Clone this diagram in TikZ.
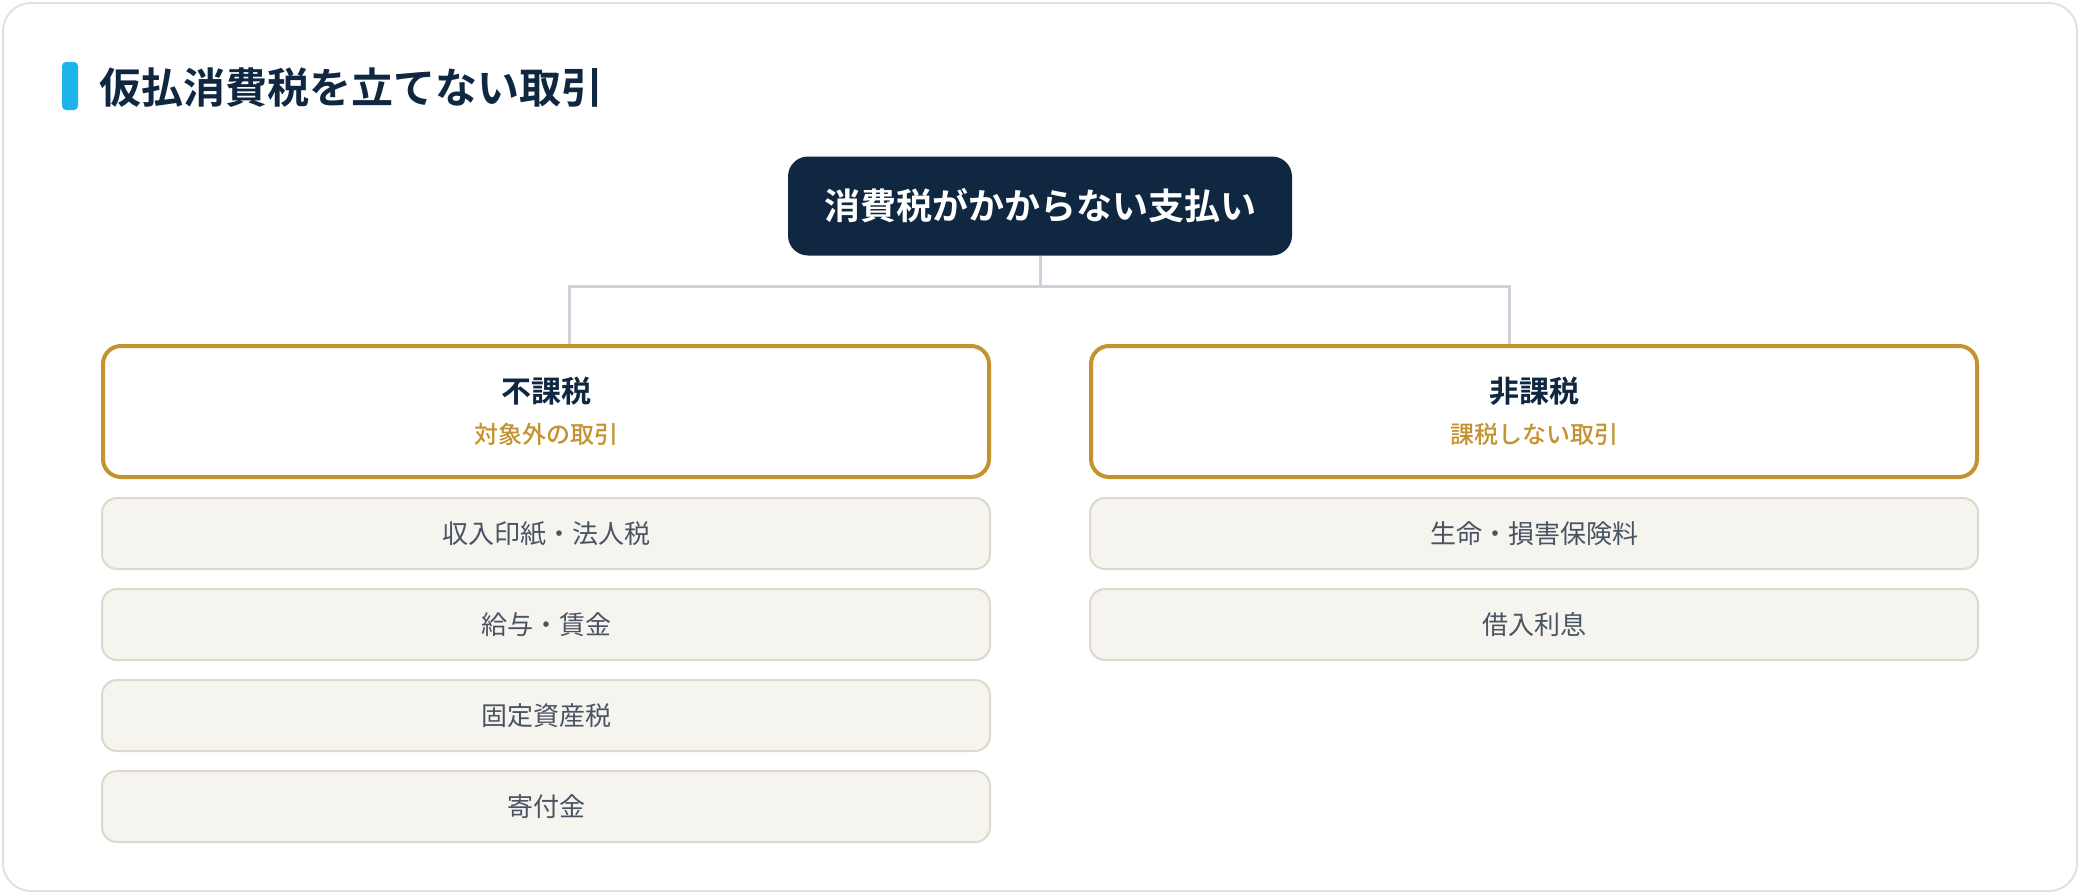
\documentclass[tikz,border=0pt]{standalone}
\usepackage{fontspec}
\setmainfont{Noto Sans CJK JP}[BoldFont={Noto Sans CJK JP Bold}]
\newfontfamily\medfont{Noto Sans CJK JP Medium}
\usetikzlibrary{positioning}
\definecolor{navy}{HTML}{0F2740}
\definecolor{accent}{HTML}{1CB4EA}
\definecolor{gold}{HTML}{C4922F}
\definecolor{itemfill}{HTML}{F5F4EF}
\definecolor{itemline}{HTML}{DDDACB}
\definecolor{itemtext}{HTML}{4A5361}
\definecolor{linkline}{HTML}{CBD2DC}
\definecolor{frameline}{HTML}{E4E1D6}
\tikzstyle{top} = [fill=navy, text=white, rounded corners=10pt, minimum width=252pt, minimum height=49.5pt, font=\fontsize{18}{22}\selectfont\bfseries]
\tikzstyle{head} = [draw=gold, line width=2pt, fill=white, rounded corners=9pt, minimum width=443pt, minimum height=65.5pt, align=center, font=\fontsize{12}{20.5}\selectfont]
\tikzstyle{item} = [draw=itemline, line width=1pt, fill=itemfill, rounded corners=7.5pt, minimum width=444pt, minimum height=35.5pt, text=itemtext, font=\fontsize{13}{15}\selectfont]
\tikzstyle{link} = [draw=linkline, line width=1.5pt]

\begin{document}
\begin{tikzpicture}[x=0.5pt,y=-0.5pt,node distance=9pt]
\useasboundingbox (0,0) rectangle (2080,894);
\draw[frameline, line width=1pt, fill=white, rounded corners=14pt] (3,3) rectangle (2077,891);

% title
\fill[accent, rounded corners=2pt] (62,62) rectangle (78,110);
\node[anchor=west, inner sep=0pt, text=navy, font=\fontsize{21}{25}\selectfont\bfseries] (title) at (99,88) {仮払消費税を立てない取引};

\node[top] (pay) at (1040,206) {消費税がかからない支払い};

\node[head] (hd1) at (546,411.5) {{\fontsize{15}{20.5}\selectfont\bfseries\color{navy}不課税}\\{\medfont\color{gold}対象外の取引}};
\node[head] (hd2) at (1534,411.5) {{\fontsize{15}{20.5}\selectfont\bfseries\color{navy}非課税}\\{\medfont\color{gold}課税しない取引}};

\node[item, below = of hd1] (a1) {収入印紙・法人税};
\node[item, below = of a1] (a2) {給与・賃金};
\node[item, below = of a2] (a3) {固定資産税};
\node[item, below = of a3] (a4) {寄付金};

\node[item, below = of hd2] (b1) {生命・損害保険料};
\node[item, below = of b1] (b2) {借入利息};

\path[link]
(pay.south) -- ++(0,31) -| ([xshift=11.5pt]hd1.north)
(pay.south) -- ++(0,31) -| ([xshift=-12.5pt]hd2.north);
\end{tikzpicture}
\end{document}
